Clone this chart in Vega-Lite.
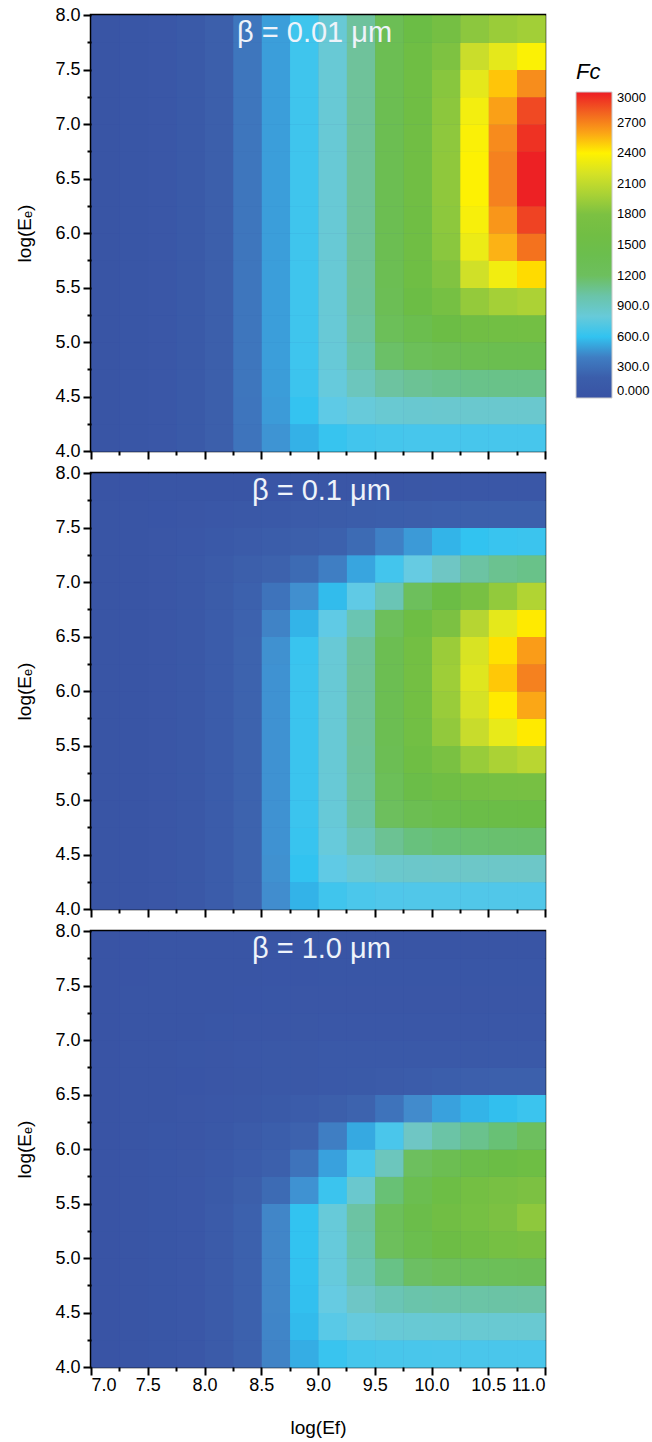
{
"$schema":"https://vega.github.io/schema/vega-lite/v6.json",
"padding":{"left":14,"top":4,"right":0,"bottom":0},
"autosize":{"type":"pad"},
"background":"white",
"spacing":0,
"datasets":{
"p1":[
{"x":7,"y":4,"v":30},{"x":7.25,"y":4,"v":50},{"x":7.5,"y":4,"v":80},{"x":7.75,"y":4,"v":130},{"x":8,"y":4,"v":220},{"x":8.25,"y":4,"v":365},{"x":8.5,"y":4,"v":475},{"x":8.75,"y":4,"v":553},{"x":9,"y":4,"v":612},{"x":9.25,"y":4,"v":637},{"x":9.5,"y":4,"v":647},{"x":9.75,"y":4,"v":650},{"x":10,"y":4,"v":650},{"x":10.25,"y":4,"v":650},{"x":10.5,"y":4,"v":650},{"x":10.75,"y":4,"v":650},
{"x":7,"y":4.25,"v":30},{"x":7.25,"y":4.25,"v":50},{"x":7.5,"y":4.25,"v":80},{"x":7.75,"y":4.25,"v":130},{"x":8,"y":4.25,"v":220},{"x":8.25,"y":4.25,"v":369},{"x":8.5,"y":4.25,"v":493},{"x":8.75,"y":4.25,"v":604},{"x":9,"y":4.25,"v":723},{"x":9.25,"y":4.25,"v":797},{"x":9.5,"y":4.25,"v":833},{"x":9.75,"y":4.25,"v":842},{"x":10,"y":4.25,"v":847},{"x":10.25,"y":4.25,"v":850},{"x":10.5,"y":4.25,"v":850},{"x":10.75,"y":4.25,"v":850},
{"x":7,"y":4.5,"v":30},{"x":7.25,"y":4.5,"v":50},{"x":7.5,"y":4.5,"v":80},{"x":7.75,"y":4.5,"v":130},{"x":8,"y":4.5,"v":220},{"x":8.25,"y":4.5,"v":370},{"x":8.5,"y":4.5,"v":498},{"x":8.75,"y":4.5,"v":622},{"x":9,"y":4.5,"v":785},{"x":9.25,"y":4.5,"v":929},{"x":9.5,"y":4.5,"v":1030},{"x":9.75,"y":4.5,"v":1067},{"x":10,"y":4.5,"v":1085},{"x":10.25,"y":4.5,"v":1097},{"x":10.5,"y":4.5,"v":1100},{"x":10.75,"y":4.5,"v":1100},
{"x":7,"y":4.75,"v":30},{"x":7.25,"y":4.75,"v":50},{"x":7.5,"y":4.75,"v":80},{"x":7.75,"y":4.75,"v":130},{"x":8,"y":4.75,"v":220},{"x":8.25,"y":4.75,"v":370},{"x":8.5,"y":4.75,"v":500},{"x":8.75,"y":4.75,"v":627},{"x":9,"y":4.75,"v":808},{"x":9.25,"y":4.75,"v":1000},{"x":9.5,"y":4.75,"v":1181},{"x":9.75,"y":4.75,"v":1265},{"x":10,"y":4.75,"v":1327},{"x":10.25,"y":4.75,"v":1363},{"x":10.5,"y":4.75,"v":1373},{"x":10.75,"y":4.75,"v":1377},
{"x":7,"y":5,"v":30},{"x":7.25,"y":5,"v":50},{"x":7.5,"y":5,"v":80},{"x":7.75,"y":5,"v":130},{"x":8,"y":5,"v":220},{"x":8.25,"y":5,"v":370},{"x":8.5,"y":5,"v":500},{"x":8.75,"y":5,"v":630},{"x":9,"y":5,"v":815},{"x":9.25,"y":5,"v":1028},{"x":9.5,"y":5,"v":1261},{"x":9.75,"y":5,"v":1403},{"x":10,"y":5,"v":1510},{"x":10.25,"y":5,"v":1605},{"x":10.5,"y":5,"v":1627},{"x":10.75,"y":5,"v":1640},
{"x":7,"y":5.25,"v":30},{"x":7.25,"y":5.25,"v":50},{"x":7.5,"y":5.25,"v":80},{"x":7.75,"y":5.25,"v":130},{"x":8,"y":5.25,"v":220},{"x":8.25,"y":5.25,"v":370},{"x":8.5,"y":5.25,"v":500},{"x":8.75,"y":5.25,"v":630},{"x":9,"y":5.25,"v":820},{"x":9.25,"y":5.25,"v":1043},{"x":9.5,"y":5.25,"v":1318},{"x":9.75,"y":5.25,"v":1514},{"x":10,"y":5.25,"v":1699},{"x":10.25,"y":5.25,"v":1906},{"x":10.5,"y":5.25,"v":1976},{"x":10.75,"y":5.25,"v":2009},
{"x":7,"y":5.5,"v":30},{"x":7.25,"y":5.5,"v":50},{"x":7.5,"y":5.5,"v":80},{"x":7.75,"y":5.5,"v":130},{"x":8,"y":5.5,"v":220},{"x":8.25,"y":5.5,"v":370},{"x":8.5,"y":5.5,"v":500},{"x":8.75,"y":5.5,"v":630},{"x":9,"y":5.5,"v":820},{"x":9.25,"y":5.5,"v":1048},{"x":9.5,"y":5.5,"v":1339},{"x":9.75,"y":5.5,"v":1570},{"x":10,"y":5.5,"v":1824},{"x":10.25,"y":5.5,"v":2176},{"x":10.5,"y":5.5,"v":2340},{"x":10.75,"y":5.5,"v":2454},
{"x":7,"y":5.75,"v":30},{"x":7.25,"y":5.75,"v":50},{"x":7.5,"y":5.75,"v":80},{"x":7.75,"y":5.75,"v":130},{"x":8,"y":5.75,"v":220},{"x":8.25,"y":5.75,"v":370},{"x":8.5,"y":5.75,"v":500},{"x":8.75,"y":5.75,"v":630},{"x":9,"y":5.75,"v":820},{"x":9.25,"y":5.75,"v":1050},{"x":9.5,"y":5.75,"v":1348},{"x":9.75,"y":5.75,"v":1589},{"x":10,"y":5.75,"v":1864},{"x":10.25,"y":5.75,"v":2313},{"x":10.5,"y":5.75,"v":2556},{"x":10.75,"y":5.75,"v":2753},
{"x":7,"y":6,"v":30},{"x":7.25,"y":6,"v":50},{"x":7.5,"y":6,"v":80},{"x":7.75,"y":6,"v":130},{"x":8,"y":6,"v":220},{"x":8.25,"y":6,"v":370},{"x":8.5,"y":6,"v":500},{"x":8.75,"y":6,"v":630},{"x":9,"y":6,"v":820},{"x":9.25,"y":6,"v":1050},{"x":9.5,"y":6,"v":1350},{"x":9.75,"y":6,"v":1592},{"x":10,"y":6,"v":1877},{"x":10.25,"y":6,"v":2362},{"x":10.5,"y":6,"v":2645},{"x":10.75,"y":6,"v":2894},
{"x":7,"y":6.25,"v":30},{"x":7.25,"y":6.25,"v":50},{"x":7.5,"y":6.25,"v":80},{"x":7.75,"y":6.25,"v":130},{"x":8,"y":6.25,"v":220},{"x":8.25,"y":6.25,"v":370},{"x":8.5,"y":6.25,"v":500},{"x":8.75,"y":6.25,"v":630},{"x":9,"y":6.25,"v":820},{"x":9.25,"y":6.25,"v":1050},{"x":9.5,"y":6.25,"v":1350},{"x":9.75,"y":6.25,"v":1598},{"x":10,"y":6.25,"v":1887},{"x":10.25,"y":6.25,"v":2389},{"x":10.5,"y":6.25,"v":2708},{"x":10.75,"y":6.25,"v":2990},
{"x":7,"y":6.5,"v":30},{"x":7.25,"y":6.5,"v":50},{"x":7.5,"y":6.5,"v":80},{"x":7.75,"y":6.5,"v":130},{"x":8,"y":6.5,"v":220},{"x":8.25,"y":6.5,"v":370},{"x":8.5,"y":6.5,"v":500},{"x":8.75,"y":6.5,"v":630},{"x":9,"y":6.5,"v":820},{"x":9.25,"y":6.5,"v":1050},{"x":9.5,"y":6.5,"v":1350},{"x":9.75,"y":6.5,"v":1598},{"x":10,"y":6.5,"v":1887},{"x":10.25,"y":6.5,"v":2389},{"x":10.5,"y":6.5,"v":2708},{"x":10.75,"y":6.5,"v":2990},
{"x":7,"y":6.75,"v":30},{"x":7.25,"y":6.75,"v":50},{"x":7.5,"y":6.75,"v":80},{"x":7.75,"y":6.75,"v":130},{"x":8,"y":6.75,"v":220},{"x":8.25,"y":6.75,"v":370},{"x":8.5,"y":6.75,"v":500},{"x":8.75,"y":6.75,"v":630},{"x":9,"y":6.75,"v":820},{"x":9.25,"y":6.75,"v":1050},{"x":9.5,"y":6.75,"v":1350},{"x":9.75,"y":6.75,"v":1596},{"x":10,"y":6.75,"v":1881},{"x":10.25,"y":6.75,"v":2377},{"x":10.5,"y":6.75,"v":2679},{"x":10.75,"y":6.75,"v":2950},
{"x":7,"y":7,"v":30},{"x":7.25,"y":7,"v":50},{"x":7.5,"y":7,"v":80},{"x":7.75,"y":7,"v":130},{"x":8,"y":7,"v":220},{"x":8.25,"y":7,"v":370},{"x":8.5,"y":7,"v":500},{"x":8.75,"y":7,"v":630},{"x":9,"y":7,"v":820},{"x":9.25,"y":7,"v":1050},{"x":9.5,"y":7,"v":1348},{"x":9.75,"y":7,"v":1592},{"x":10,"y":7,"v":1873},{"x":10.25,"y":7,"v":2347},{"x":10.5,"y":7,"v":2613},{"x":10.75,"y":7,"v":2871},
{"x":7,"y":7.25,"v":30},{"x":7.25,"y":7.25,"v":50},{"x":7.5,"y":7.25,"v":80},{"x":7.75,"y":7.25,"v":130},{"x":8,"y":7.25,"v":220},{"x":8.25,"y":7.25,"v":370},{"x":8.5,"y":7.25,"v":500},{"x":8.75,"y":7.25,"v":630},{"x":9,"y":7.25,"v":820},{"x":9.25,"y":7.25,"v":1049},{"x":9.5,"y":7.25,"v":1345},{"x":9.75,"y":7.25,"v":1582},{"x":10,"y":7.25,"v":1856},{"x":10.25,"y":7.25,"v":2279},{"x":10.5,"y":7.25,"v":2508},{"x":10.75,"y":7.25,"v":2673},
{"x":7,"y":7.5,"v":30},{"x":7.25,"y":7.5,"v":50},{"x":7.5,"y":7.5,"v":80},{"x":7.75,"y":7.5,"v":130},{"x":8,"y":7.5,"v":220},{"x":8.25,"y":7.5,"v":370},{"x":8.5,"y":7.5,"v":500},{"x":8.75,"y":7.5,"v":630},{"x":9,"y":7.5,"v":820},{"x":9.25,"y":7.5,"v":1048},{"x":9.5,"y":7.5,"v":1336},{"x":9.75,"y":7.5,"v":1565},{"x":10,"y":7.5,"v":1811},{"x":10.25,"y":7.5,"v":2144},{"x":10.5,"y":7.5,"v":2280},{"x":10.75,"y":7.5,"v":2383},
{"x":7,"y":7.75,"v":30},{"x":7.25,"y":7.75,"v":50},{"x":7.5,"y":7.75,"v":80},{"x":7.75,"y":7.75,"v":130},{"x":8,"y":7.75,"v":220},{"x":8.25,"y":7.75,"v":370},{"x":8.5,"y":7.75,"v":500},{"x":8.75,"y":7.75,"v":630},{"x":9,"y":7.75,"v":820},{"x":9.25,"y":7.75,"v":1041},{"x":9.5,"y":7.75,"v":1314},{"x":9.75,"y":7.75,"v":1504},{"x":10,"y":7.75,"v":1682},{"x":10.25,"y":7.75,"v":1870},{"x":10.5,"y":7.75,"v":1934},{"x":10.75,"y":7.75,"v":1966}
],
"p2":[
{"x":7,"y":4,"v":30},{"x":7.25,"y":4,"v":40},{"x":7.5,"y":4,"v":60},{"x":7.75,"y":4,"v":100},{"x":8,"y":4,"v":170},{"x":8.25,"y":4,"v":299},{"x":8.5,"y":4,"v":456},{"x":8.75,"y":4,"v":558},{"x":9,"y":4,"v":632},{"x":9.25,"y":4,"v":664},{"x":9.5,"y":4,"v":676},{"x":9.75,"y":4,"v":680},{"x":10,"y":4,"v":680},{"x":10.25,"y":4,"v":680},{"x":10.5,"y":4,"v":680},{"x":10.75,"y":4,"v":680},
{"x":7,"y":4.25,"v":30},{"x":7.25,"y":4.25,"v":40},{"x":7.5,"y":4.25,"v":60},{"x":7.75,"y":4.25,"v":100},{"x":8,"y":4.25,"v":170},{"x":8.25,"y":4.25,"v":300},{"x":8.5,"y":4.25,"v":465},{"x":8.75,"y":4.25,"v":599},{"x":9,"y":4.25,"v":730},{"x":9.25,"y":4.25,"v":817},{"x":9.5,"y":4.25,"v":859},{"x":9.75,"y":4.25,"v":871},{"x":10,"y":4.25,"v":877},{"x":10.25,"y":4.25,"v":880},{"x":10.5,"y":4.25,"v":880},{"x":10.75,"y":4.25,"v":880},
{"x":7,"y":4.5,"v":30},{"x":7.25,"y":4.5,"v":40},{"x":7.5,"y":4.5,"v":60},{"x":7.75,"y":4.5,"v":100},{"x":8,"y":4.5,"v":170},{"x":8.25,"y":4.5,"v":300},{"x":8.5,"y":4.5,"v":470},{"x":8.75,"y":4.5,"v":614},{"x":9,"y":4.5,"v":793},{"x":9.25,"y":4.5,"v":948},{"x":9.5,"y":4.5,"v":1071},{"x":9.75,"y":4.5,"v":1130},{"x":10,"y":4.5,"v":1151},{"x":10.25,"y":4.5,"v":1161},{"x":10.5,"y":4.5,"v":1166},{"x":10.75,"y":4.5,"v":1168},
{"x":7,"y":4.75,"v":30},{"x":7.25,"y":4.75,"v":40},{"x":7.5,"y":4.75,"v":60},{"x":7.75,"y":4.75,"v":100},{"x":8,"y":4.75,"v":170},{"x":8.25,"y":4.75,"v":300},{"x":8.5,"y":4.75,"v":470},{"x":8.75,"y":4.75,"v":619},{"x":9,"y":4.75,"v":811},{"x":9.25,"y":4.75,"v":1015},{"x":9.5,"y":4.75,"v":1219},{"x":9.75,"y":4.75,"v":1350},{"x":10,"y":4.75,"v":1425},{"x":10.25,"y":4.75,"v":1462},{"x":10.5,"y":4.75,"v":1476},{"x":10.75,"y":4.75,"v":1484},
{"x":7,"y":5,"v":30},{"x":7.25,"y":5,"v":40},{"x":7.5,"y":5,"v":60},{"x":7.75,"y":5,"v":100},{"x":8,"y":5,"v":170},{"x":8.25,"y":5,"v":300},{"x":8.5,"y":5,"v":470},{"x":8.75,"y":5,"v":620},{"x":9,"y":5,"v":816},{"x":9.25,"y":5,"v":1033},{"x":9.5,"y":5,"v":1282},{"x":9.75,"y":5,"v":1465},{"x":10,"y":5,"v":1580},{"x":10.25,"y":5,"v":1659},{"x":10.5,"y":5,"v":1692},{"x":10.75,"y":5,"v":1710},
{"x":7,"y":5.25,"v":30},{"x":7.25,"y":5.25,"v":40},{"x":7.5,"y":5.25,"v":60},{"x":7.75,"y":5.25,"v":100},{"x":8,"y":5.25,"v":170},{"x":8.25,"y":5.25,"v":300},{"x":8.5,"y":5.25,"v":470},{"x":8.75,"y":5.25,"v":620},{"x":9,"y":5.25,"v":820},{"x":9.25,"y":5.25,"v":1045},{"x":9.5,"y":5.25,"v":1324},{"x":9.75,"y":5.25,"v":1574},{"x":10,"y":5.25,"v":1773},{"x":10.25,"y":5.25,"v":1925},{"x":10.5,"y":5.25,"v":2006},{"x":10.75,"y":5.25,"v":2063},
{"x":7,"y":5.5,"v":30},{"x":7.25,"y":5.5,"v":40},{"x":7.5,"y":5.5,"v":60},{"x":7.75,"y":5.5,"v":100},{"x":8,"y":5.5,"v":170},{"x":8.25,"y":5.5,"v":300},{"x":8.5,"y":5.5,"v":470},{"x":8.75,"y":5.5,"v":620},{"x":9,"y":5.5,"v":820},{"x":9.25,"y":5.5,"v":1050},{"x":9.5,"y":5.5,"v":1345},{"x":9.75,"y":5.5,"v":1628},{"x":10,"y":5.5,"v":1899},{"x":10.25,"y":5.5,"v":2133},{"x":10.5,"y":5.5,"v":2293},{"x":10.75,"y":5.5,"v":2420},
{"x":7,"y":5.75,"v":30},{"x":7.25,"y":5.75,"v":40},{"x":7.5,"y":5.75,"v":60},{"x":7.75,"y":5.75,"v":100},{"x":8,"y":5.75,"v":170},{"x":8.25,"y":5.75,"v":300},{"x":8.5,"y":5.75,"v":470},{"x":8.75,"y":5.75,"v":620},{"x":9,"y":5.75,"v":820},{"x":9.25,"y":5.75,"v":1050},{"x":9.5,"y":5.75,"v":1350},{"x":9.75,"y":5.75,"v":1648},{"x":10,"y":5.75,"v":1930},{"x":10.25,"y":5.75,"v":2205},{"x":10.5,"y":5.75,"v":2420},{"x":10.75,"y":5.75,"v":2592},
{"x":7,"y":6,"v":30},{"x":7.25,"y":6,"v":40},{"x":7.5,"y":6,"v":60},{"x":7.75,"y":6,"v":100},{"x":8,"y":6,"v":170},{"x":8.25,"y":6,"v":300},{"x":8.5,"y":6,"v":470},{"x":8.75,"y":6,"v":620},{"x":9,"y":6,"v":820},{"x":9.25,"y":6,"v":1050},{"x":9.5,"y":6,"v":1350},{"x":9.75,"y":6,"v":1650},{"x":10,"y":6,"v":1950},{"x":10.25,"y":6,"v":2250},{"x":10.5,"y":6,"v":2500},{"x":10.75,"y":6,"v":2710},
{"x":7,"y":6.25,"v":30},{"x":7.25,"y":6.25,"v":40},{"x":7.5,"y":6.25,"v":60},{"x":7.75,"y":6.25,"v":100},{"x":8,"y":6.25,"v":170},{"x":8.25,"y":6.25,"v":300},{"x":8.5,"y":6.25,"v":465},{"x":8.75,"y":6.25,"v":615},{"x":9,"y":6.25,"v":815},{"x":9.25,"y":6.25,"v":1045},{"x":9.5,"y":6.25,"v":1345},{"x":9.75,"y":6.25,"v":1645},{"x":10,"y":6.25,"v":1936},{"x":10.25,"y":6.25,"v":2216},{"x":10.5,"y":6.25,"v":2440},{"x":10.75,"y":6.25,"v":2625},
{"x":7,"y":6.5,"v":30},{"x":7.25,"y":6.5,"v":40},{"x":7.5,"y":6.5,"v":60},{"x":7.75,"y":6.5,"v":100},{"x":8,"y":6.5,"v":170},{"x":8.25,"y":6.5,"v":290},{"x":8.5,"y":6.5,"v":420},{"x":8.75,"y":6.5,"v":560},{"x":9,"y":6.5,"v":730},{"x":9.25,"y":6.5,"v":970},{"x":9.5,"y":6.5,"v":1240},{"x":9.75,"y":6.5,"v":1550},{"x":10,"y":6.5,"v":1800},{"x":10.25,"y":6.5,"v":2050},{"x":10.5,"y":6.5,"v":2280},{"x":10.75,"y":6.5,"v":2420},
{"x":7,"y":6.75,"v":30},{"x":7.25,"y":6.75,"v":40},{"x":7.5,"y":6.75,"v":60},{"x":7.75,"y":6.75,"v":100},{"x":8,"y":6.75,"v":160},{"x":8.25,"y":6.75,"v":260},{"x":8.5,"y":6.75,"v":360},{"x":8.75,"y":6.75,"v":460},{"x":9,"y":6.75,"v":580},{"x":9.25,"y":6.75,"v":730},{"x":9.5,"y":6.75,"v":960},{"x":9.75,"y":6.75,"v":1220},{"x":10,"y":6.75,"v":1500},{"x":10.25,"y":6.75,"v":1720},{"x":10.5,"y":6.75,"v":1900},{"x":10.75,"y":6.75,"v":2030},
{"x":7,"y":7,"v":30},{"x":7.25,"y":7,"v":40},{"x":7.5,"y":7,"v":60},{"x":7.75,"y":7,"v":100},{"x":8,"y":7,"v":150},{"x":8.25,"y":7,"v":220},{"x":8.5,"y":7,"v":280},{"x":8.75,"y":7,"v":330},{"x":9,"y":7,"v":400},{"x":9.25,"y":7,"v":520},{"x":9.5,"y":7,"v":640},{"x":9.75,"y":7,"v":760},{"x":10,"y":7,"v":900},{"x":10.25,"y":7,"v":1020},{"x":10.5,"y":7,"v":1080},{"x":10.75,"y":7,"v":1100},
{"x":7,"y":7.25,"v":30},{"x":7.25,"y":7.25,"v":40},{"x":7.5,"y":7.25,"v":55},{"x":7.75,"y":7.25,"v":80},{"x":8,"y":7.25,"v":110},{"x":8.25,"y":7.25,"v":150},{"x":8.5,"y":7.25,"v":180},{"x":8.75,"y":7.25,"v":220},{"x":9,"y":7.25,"v":270},{"x":9.25,"y":7.25,"v":330},{"x":9.5,"y":7.25,"v":410},{"x":9.75,"y":7.25,"v":490},{"x":10,"y":7.25,"v":560},{"x":10.25,"y":7.25,"v":600},{"x":10.5,"y":7.25,"v":615},{"x":10.75,"y":7.25,"v":620},
{"x":7,"y":7.5,"v":28},{"x":7.25,"y":7.5,"v":35},{"x":7.5,"y":7.5,"v":45},{"x":7.75,"y":7.5,"v":60},{"x":8,"y":7.5,"v":80},{"x":8.25,"y":7.5,"v":100},{"x":8.5,"y":7.5,"v":120},{"x":8.75,"y":7.5,"v":140},{"x":9,"y":7.5,"v":160},{"x":9.25,"y":7.5,"v":180},{"x":9.5,"y":7.5,"v":200},{"x":9.75,"y":7.5,"v":215},{"x":10,"y":7.5,"v":228},{"x":10.25,"y":7.5,"v":238},{"x":10.5,"y":7.5,"v":245},{"x":10.75,"y":7.5,"v":250},
{"x":7,"y":7.75,"v":25},{"x":7.25,"y":7.75,"v":25},{"x":7.5,"y":7.75,"v":30},{"x":7.75,"y":7.75,"v":30},{"x":8,"y":7.75,"v":35},{"x":8.25,"y":7.75,"v":40},{"x":8.5,"y":7.75,"v":45},{"x":8.75,"y":7.75,"v":50},{"x":9,"y":7.75,"v":55},{"x":9.25,"y":7.75,"v":60},{"x":9.5,"y":7.75,"v":65},{"x":9.75,"y":7.75,"v":70},{"x":10,"y":7.75,"v":72},{"x":10.25,"y":7.75,"v":75},{"x":10.5,"y":7.75,"v":78},{"x":10.75,"y":7.75,"v":80}
],
"p3":[
{"x":7,"y":4,"v":25},{"x":7.25,"y":4,"v":35},{"x":7.5,"y":4,"v":50},{"x":7.75,"y":4,"v":80},{"x":8,"y":4,"v":140},{"x":8.25,"y":4,"v":260},{"x":8.5,"y":4,"v":420},{"x":8.75,"y":4,"v":540},{"x":9,"y":4,"v":615},{"x":9.25,"y":4,"v":645},{"x":9.5,"y":4,"v":654},{"x":9.75,"y":4,"v":658},{"x":10,"y":4,"v":660},{"x":10.25,"y":4,"v":660},{"x":10.5,"y":4,"v":660},{"x":10.75,"y":4,"v":660},
{"x":7,"y":4.25,"v":25},{"x":7.25,"y":4.25,"v":35},{"x":7.5,"y":4.25,"v":50},{"x":7.75,"y":4.25,"v":80},{"x":8,"y":4.25,"v":140},{"x":8.25,"y":4.25,"v":260},{"x":8.5,"y":4.25,"v":427},{"x":8.75,"y":4.25,"v":578},{"x":9,"y":4.25,"v":706},{"x":9.25,"y":4.25,"v":780},{"x":9.5,"y":4.25,"v":814},{"x":9.75,"y":4.25,"v":823},{"x":10,"y":4.25,"v":828},{"x":10.25,"y":4.25,"v":832},{"x":10.5,"y":4.25,"v":834},{"x":10.75,"y":4.25,"v":835},
{"x":7,"y":4.5,"v":25},{"x":7.25,"y":4.5,"v":35},{"x":7.5,"y":4.5,"v":50},{"x":7.75,"y":4.5,"v":80},{"x":8,"y":4.5,"v":140},{"x":8.25,"y":4.5,"v":260},{"x":8.5,"y":4.5,"v":430},{"x":8.75,"y":4.5,"v":592},{"x":9,"y":4.5,"v":758},{"x":9.25,"y":4.5,"v":890},{"x":9.5,"y":4.5,"v":960},{"x":9.75,"y":4.5,"v":995},{"x":10,"y":4.5,"v":1006},{"x":10.25,"y":4.5,"v":1012},{"x":10.5,"y":4.5,"v":1016},{"x":10.75,"y":4.5,"v":1019},
{"x":7,"y":4.75,"v":25},{"x":7.25,"y":4.75,"v":35},{"x":7.5,"y":4.75,"v":50},{"x":7.75,"y":4.75,"v":80},{"x":8,"y":4.75,"v":140},{"x":8.25,"y":4.75,"v":260},{"x":8.5,"y":4.75,"v":430},{"x":8.75,"y":4.75,"v":598},{"x":9,"y":4.75,"v":786},{"x":9.25,"y":4.75,"v":967},{"x":9.5,"y":4.75,"v":1109},{"x":9.75,"y":4.75,"v":1190},{"x":10,"y":4.75,"v":1235},{"x":10.25,"y":4.75,"v":1258},{"x":10.5,"y":4.75,"v":1275},{"x":10.75,"y":4.75,"v":1285},
{"x":7,"y":5,"v":25},{"x":7.25,"y":5,"v":35},{"x":7.5,"y":5,"v":50},{"x":7.75,"y":5,"v":80},{"x":8,"y":5,"v":140},{"x":8.25,"y":5,"v":260},{"x":8.5,"y":5,"v":430},{"x":8.75,"y":5,"v":600},{"x":9,"y":5,"v":790},{"x":9.25,"y":5,"v":1000},{"x":9.5,"y":5,"v":1220},{"x":9.75,"y":5,"v":1400},{"x":10,"y":5,"v":1530},{"x":10.25,"y":5,"v":1610},{"x":10.5,"y":5,"v":1690},{"x":10.75,"y":5,"v":1750},
{"x":7,"y":5.25,"v":25},{"x":7.25,"y":5.25,"v":35},{"x":7.5,"y":5.25,"v":50},{"x":7.75,"y":5.25,"v":80},{"x":8,"y":5.25,"v":140},{"x":8.25,"y":5.25,"v":260},{"x":8.5,"y":5.25,"v":430},{"x":8.75,"y":5.25,"v":600},{"x":9,"y":5.25,"v":800},{"x":9.25,"y":5.25,"v":1020},{"x":9.5,"y":5.25,"v":1250},{"x":9.75,"y":5.25,"v":1450},{"x":10,"y":5.25,"v":1600},{"x":10.25,"y":5.25,"v":1700},{"x":10.5,"y":5.25,"v":1800},{"x":10.75,"y":5.25,"v":1880},
{"x":7,"y":5.5,"v":25},{"x":7.25,"y":5.5,"v":35},{"x":7.5,"y":5.5,"v":50},{"x":7.75,"y":5.5,"v":78},{"x":8,"y":5.5,"v":130},{"x":8.25,"y":5.5,"v":220},{"x":8.5,"y":5.5,"v":330},{"x":8.75,"y":5.5,"v":470},{"x":9,"y":5.5,"v":620},{"x":9.25,"y":5.5,"v":850},{"x":9.5,"y":5.5,"v":1150},{"x":9.75,"y":5.5,"v":1380},{"x":10,"y":5.5,"v":1540},{"x":10.25,"y":5.5,"v":1650},{"x":10.5,"y":5.5,"v":1730},{"x":10.75,"y":5.5,"v":1800},
{"x":7,"y":5.75,"v":25},{"x":7.25,"y":5.75,"v":35},{"x":7.5,"y":5.75,"v":50},{"x":7.75,"y":5.75,"v":70},{"x":8,"y":5.75,"v":110},{"x":8.25,"y":5.75,"v":170},{"x":8.5,"y":5.75,"v":250},{"x":8.75,"y":5.75,"v":360},{"x":9,"y":5.75,"v":510},{"x":9.25,"y":5.75,"v":650},{"x":9.5,"y":5.75,"v":930},{"x":9.75,"y":5.75,"v":1200},{"x":10,"y":5.75,"v":1350},{"x":10.25,"y":5.75,"v":1450},{"x":10.5,"y":5.75,"v":1500},{"x":10.75,"y":5.75,"v":1550},
{"x":7,"y":6,"v":25},{"x":7.25,"y":6,"v":35},{"x":7.5,"y":6,"v":47},{"x":7.75,"y":6,"v":65},{"x":8,"y":6,"v":95},{"x":8.25,"y":6,"v":140},{"x":8.5,"y":6,"v":200},{"x":8.75,"y":6,"v":290},{"x":9,"y":6,"v":400},{"x":9.25,"y":6,"v":530},{"x":9.5,"y":6,"v":660},{"x":9.75,"y":6,"v":900},{"x":10,"y":6,"v":1010},{"x":10.25,"y":6,"v":1090},{"x":10.5,"y":6,"v":1150},{"x":10.75,"y":6,"v":1200},
{"x":7,"y":6.25,"v":25},{"x":7.25,"y":6.25,"v":34},{"x":7.5,"y":6.25,"v":42},{"x":7.75,"y":6.25,"v":55},{"x":8,"y":6.25,"v":75},{"x":8.25,"y":6.25,"v":100},{"x":8.5,"y":6.25,"v":130},{"x":8.75,"y":6.25,"v":170},{"x":9,"y":6.25,"v":220},{"x":9.25,"y":6.25,"v":300},{"x":9.5,"y":6.25,"v":360},{"x":9.75,"y":6.25,"v":450},{"x":10,"y":6.25,"v":510},{"x":10.25,"y":6.25,"v":560},{"x":10.5,"y":6.25,"v":590},{"x":10.75,"y":6.25,"v":620},
{"x":7,"y":6.5,"v":25},{"x":7.25,"y":6.5,"v":32},{"x":7.5,"y":6.5,"v":38},{"x":7.75,"y":6.5,"v":45},{"x":8,"y":6.5,"v":55},{"x":8.25,"y":6.5,"v":70},{"x":8.5,"y":6.5,"v":85},{"x":8.75,"y":6.5,"v":100},{"x":9,"y":6.5,"v":115},{"x":9.25,"y":6.5,"v":130},{"x":9.5,"y":6.5,"v":150},{"x":9.75,"y":6.5,"v":170},{"x":10,"y":6.5,"v":200},{"x":10.25,"y":6.5,"v":228},{"x":10.5,"y":6.5,"v":243},{"x":10.75,"y":6.5,"v":250},
{"x":7,"y":6.75,"v":25},{"x":7.25,"y":6.75,"v":32},{"x":7.5,"y":6.75,"v":40},{"x":7.75,"y":6.75,"v":50},{"x":8,"y":6.75,"v":60},{"x":8.25,"y":6.75,"v":72},{"x":8.5,"y":6.75,"v":85},{"x":8.75,"y":6.75,"v":95},{"x":9,"y":6.75,"v":103},{"x":9.25,"y":6.75,"v":108},{"x":9.5,"y":6.75,"v":112},{"x":9.75,"y":6.75,"v":115},{"x":10,"y":6.75,"v":117},{"x":10.25,"y":6.75,"v":118},{"x":10.5,"y":6.75,"v":119},{"x":10.75,"y":6.75,"v":120},
{"x":7,"y":7,"v":25},{"x":7.25,"y":7,"v":30},{"x":7.5,"y":7,"v":35},{"x":7.75,"y":7,"v":40},{"x":8,"y":7,"v":48},{"x":8.25,"y":7,"v":55},{"x":8.5,"y":7,"v":62},{"x":8.75,"y":7,"v":68},{"x":9,"y":7,"v":72},{"x":9.25,"y":7,"v":75},{"x":9.5,"y":7,"v":77},{"x":9.75,"y":7,"v":78},{"x":10,"y":7,"v":79},{"x":10.25,"y":7,"v":80},{"x":10.5,"y":7,"v":80},{"x":10.75,"y":7,"v":80},
{"x":7,"y":7.25,"v":25},{"x":7.25,"y":7.25,"v":28},{"x":7.5,"y":7.25,"v":32},{"x":7.75,"y":7.25,"v":36},{"x":8,"y":7.25,"v":40},{"x":8.25,"y":7.25,"v":45},{"x":8.5,"y":7.25,"v":50},{"x":8.75,"y":7.25,"v":53},{"x":9,"y":7.25,"v":55},{"x":9.25,"y":7.25,"v":57},{"x":9.5,"y":7.25,"v":58},{"x":9.75,"y":7.25,"v":59},{"x":10,"y":7.25,"v":60},{"x":10.25,"y":7.25,"v":60},{"x":10.5,"y":7.25,"v":60},{"x":10.75,"y":7.25,"v":60},
{"x":7,"y":7.5,"v":25},{"x":7.25,"y":7.5,"v":27},{"x":7.5,"y":7.5,"v":30},{"x":7.75,"y":7.5,"v":33},{"x":8,"y":7.5,"v":36},{"x":8.25,"y":7.5,"v":40},{"x":8.5,"y":7.5,"v":43},{"x":8.75,"y":7.5,"v":45},{"x":9,"y":7.5,"v":47},{"x":9.25,"y":7.5,"v":48},{"x":9.5,"y":7.5,"v":49},{"x":9.75,"y":7.5,"v":50},{"x":10,"y":7.5,"v":50},{"x":10.25,"y":7.5,"v":50},{"x":10.5,"y":7.5,"v":50},{"x":10.75,"y":7.5,"v":50},
{"x":7,"y":7.75,"v":25},{"x":7.25,"y":7.75,"v":25},{"x":7.5,"y":7.75,"v":28},{"x":7.75,"y":7.75,"v":30},{"x":8,"y":7.75,"v":32},{"x":8.25,"y":7.75,"v":35},{"x":8.5,"y":7.75,"v":38},{"x":8.75,"y":7.75,"v":40},{"x":9,"y":7.75,"v":40},{"x":9.25,"y":7.75,"v":40},{"x":9.5,"y":7.75,"v":40},{"x":9.75,"y":7.75,"v":40},{"x":10,"y":7.75,"v":40},{"x":10.25,"y":7.75,"v":40},{"x":10.5,"y":7.75,"v":40},{"x":10.75,"y":7.75,"v":40}
]
},
"vconcat":[
{"width":454,"height":436,"data":{"name":"p1"},
 "layer":[
  {"mark":{"type":"rect"},
   "encoding":{
    "x":{"field":"x","type":"quantitative","bin":{"binned":true,"step":0.25},"scale":{"domain":[7,11],"nice":false},"axis":{"orient":"bottom","values":[7,7.5,8,8.5,9,9.5,10,10.5,11],"format":".1f","labels":false,"tickSize":8,"title":null}},
    "y":{"field":"y","type":"quantitative","bin":{"binned":true,"step":0.25},"scale":{"domain":[4,8],"nice":false},"axis":{"orient":"left","values":[4,4.5,5,5.5,6,6.5,7,7.5,8],"format":".1f","tickSize":8,"title":"log(Eₑ)"}},
    "color":{"field":"v","type":"quantitative",
      "scale":{"domain":[0,300,450,600,750,900,1050,1200,1500,1800,2100,2400,2550,2700,2850,3000],"range":["#3953a4","#3d63ae","#428bcc","#32c3f0","#66cbe4","#6fc6c4","#6fc29a","#6dbf5e","#6bbd45","#7cc142","#c2d92f","#fff200","#fcb415","#f5841f","#f04e23","#ed1c24"]},
      "legend":{"type":"gradient","title":"Fc","orient":"none","legendX":485,"legendY":47,"direction":"vertical","gradientLength":306,"gradientThickness":36,"values":[0,300,600,900,1200,1500,1800,2100,2400,2700,3000],"labelExpr":"datum.value == 0 ? '0.000' : (datum.value < 1000 ? format(datum.value, '.1f') : format(datum.value, 'd'))","labelFontSize":13,"labelFont":"Liberation Sans","labelOffset":5,"labelOverlap":false,"labelColor":"black","titleFontSize":22,"titleFontStyle":"italic","titleFontWeight":"normal","titleFont":"Liberation Sans","titleColor":"black","titlePadding":8,"gradientStrokeColor":"#cccccc","gradientStrokeWidth":1}}
   }},
  {"mark":{"type":"rect"},
   "encoding":{
    "x":{"field":"x","type":"quantitative","bin":{"binned":true,"step":0.25},"axis":{"orient":"bottom","values":[7.25,7.75,8.25,8.75,9.25,9.75,10.25,10.75],"labels":false,"tickSize":4,"title":null}},
    "y":{"field":"y","type":"quantitative","bin":{"binned":true,"step":0.25},"axis":{"orient":"left","values":[4.25,4.75,5.25,5.75,6.25,6.75,7.25,7.75],"labels":false,"tickSize":4,"title":null}},
    "color":{"field":"v","type":"quantitative","legend":null}
   }},
  {"data":{"values":[{}]},
   "mark":{"type":"text","fill":"#eef3fa","fontSize":29,"fontWeight":"normal","font":"Liberation Sans","baseline":"alphabetic","align":"center"},
   "encoding":{"x":{"datum":8.97,"type":"quantitative","axis":null},"y":{"datum":7.752,"type":"quantitative","axis":null},"text":{"value":"β = 0.01 μm"}}}
 ],
 "resolve":{"axis":{"x":"independent","y":"independent"}}
},
{"width":454,"height":436,"data":{"name":"p2"},
 "layer":[
  {"mark":{"type":"rect"},
   "encoding":{
    "x":{"field":"x","type":"quantitative","bin":{"binned":true,"step":0.25},"scale":{"domain":[7,11],"nice":false},"axis":{"orient":"bottom","values":[7,7.5,8,8.5,9,9.5,10,10.5,11],"format":".1f","labels":false,"tickSize":8,"title":null}},
    "y":{"field":"y","type":"quantitative","bin":{"binned":true,"step":0.25},"scale":{"domain":[4,8],"nice":false},"axis":{"orient":"left","values":[4,4.5,5,5.5,6,6.5,7,7.5,8],"format":".1f","tickSize":8,"title":"log(Eₑ)"}},
    "color":{"field":"v","type":"quantitative",
      "scale":{"domain":[0,300,450,600,750,900,1050,1200,1500,1800,2100,2400,2550,2700,2850,3000],"range":["#3953a4","#3d63ae","#428bcc","#32c3f0","#66cbe4","#6fc6c4","#6fc29a","#6dbf5e","#6bbd45","#7cc142","#c2d92f","#fff200","#fcb415","#f5841f","#f04e23","#ed1c24"]},
      "legend":{"type":"gradient","title":"Fc","orient":"none","legendX":485,"legendY":47,"direction":"vertical","gradientLength":306,"gradientThickness":36,"values":[0,300,600,900,1200,1500,1800,2100,2400,2700,3000],"labelExpr":"datum.value == 0 ? '0.000' : (datum.value < 1000 ? format(datum.value, '.1f') : format(datum.value, 'd'))","labelFontSize":13,"labelFont":"Liberation Sans","labelOffset":5,"labelOverlap":false,"labelColor":"black","titleFontSize":22,"titleFontStyle":"italic","titleFontWeight":"normal","titleFont":"Liberation Sans","titleColor":"black","titlePadding":8,"gradientStrokeColor":"#cccccc","gradientStrokeWidth":1}}
   }},
  {"mark":{"type":"rect"},
   "encoding":{
    "x":{"field":"x","type":"quantitative","bin":{"binned":true,"step":0.25},"axis":{"orient":"bottom","values":[7.25,7.75,8.25,8.75,9.25,9.75,10.25,10.75],"labels":false,"tickSize":4,"title":null}},
    "y":{"field":"y","type":"quantitative","bin":{"binned":true,"step":0.25},"axis":{"orient":"left","values":[4.25,4.75,5.25,5.75,6.25,6.75,7.25,7.75],"labels":false,"tickSize":4,"title":null}},
    "color":{"field":"v","type":"quantitative","legend":null}
   }},
  {"data":{"values":[{}]},
   "mark":{"type":"text","fill":"#eef3fa","fontSize":29,"fontWeight":"normal","font":"Liberation Sans","baseline":"alphabetic","align":"center"},
   "encoding":{"x":{"datum":9.03,"type":"quantitative","axis":null},"y":{"datum":7.752,"type":"quantitative","axis":null},"text":{"value":"β = 0.1 μm"}}}
 ],
 "resolve":{"axis":{"x":"independent","y":"independent"}}
},
{"width":454,"height":436,"data":{"name":"p3"},
 "layer":[
  {"mark":{"type":"rect"},
   "encoding":{
    "x":{"field":"x","type":"quantitative","bin":{"binned":true,"step":0.25},"scale":{"domain":[7,11],"nice":false},"axis":{"orient":"bottom","values":[7,7.5,8,8.5,9,9.5,10,10.5,11],"format":".1f","tickSize":8,"labelPadding":1,"titlePadding":24,"title":"log(Ef)"}},
    "y":{"field":"y","type":"quantitative","bin":{"binned":true,"step":0.25},"scale":{"domain":[4,8],"nice":false},"axis":{"orient":"left","values":[4,4.5,5,5.5,6,6.5,7,7.5,8],"format":".1f","tickSize":8,"title":"log(Eₑ)"}},
    "color":{"field":"v","type":"quantitative",
      "scale":{"domain":[0,300,450,600,750,900,1050,1200,1500,1800,2100,2400,2550,2700,2850,3000],"range":["#3953a4","#3d63ae","#428bcc","#32c3f0","#66cbe4","#6fc6c4","#6fc29a","#6dbf5e","#6bbd45","#7cc142","#c2d92f","#fff200","#fcb415","#f5841f","#f04e23","#ed1c24"]},
      "legend":{"type":"gradient","title":"Fc","orient":"none","legendX":485,"legendY":47,"direction":"vertical","gradientLength":306,"gradientThickness":36,"values":[0,300,600,900,1200,1500,1800,2100,2400,2700,3000],"labelExpr":"datum.value == 0 ? '0.000' : (datum.value < 1000 ? format(datum.value, '.1f') : format(datum.value, 'd'))","labelFontSize":13,"labelFont":"Liberation Sans","labelOffset":5,"labelOverlap":false,"labelColor":"black","titleFontSize":22,"titleFontStyle":"italic","titleFontWeight":"normal","titleFont":"Liberation Sans","titleColor":"black","titlePadding":8,"gradientStrokeColor":"#cccccc","gradientStrokeWidth":1}}
   }},
  {"mark":{"type":"rect"},
   "encoding":{
    "x":{"field":"x","type":"quantitative","bin":{"binned":true,"step":0.25},"axis":{"orient":"bottom","values":[7.25,7.75,8.25,8.75,9.25,9.75,10.25,10.75],"labels":false,"tickSize":4,"title":null}},
    "y":{"field":"y","type":"quantitative","bin":{"binned":true,"step":0.25},"axis":{"orient":"left","values":[4.25,4.75,5.25,5.75,6.25,6.75,7.25,7.75],"labels":false,"tickSize":4,"title":null}},
    "color":{"field":"v","type":"quantitative","legend":null}
   }},
  {"data":{"values":[{}]},
   "mark":{"type":"text","fill":"#eef3fa","fontSize":29,"fontWeight":"normal","font":"Liberation Sans","baseline":"alphabetic","align":"center"},
   "encoding":{"x":{"datum":9.03,"type":"quantitative","axis":null},"y":{"datum":7.752,"type":"quantitative","axis":null},"text":{"value":"β = 1.0 μm"}}}
 ],
 "resolve":{"axis":{"x":"independent","y":"independent"}}
}
],
"resolve":{"scale":{"color":"shared"}},
"config":{
 "view":{"stroke":"black","strokeWidth":2.5,"fill":"#3953a4"},
 "axis":{"domain":false,"grid":false,"ticks":true,"tickColor":"black","tickWidth":2,"labelFont":"Liberation Sans","labelFontSize":18,"labelColor":"black","labelPadding":3,"titleFont":"Liberation Sans","titleFontSize":19,"titleFontWeight":"normal","titleColor":"black"},
 "axisY":{"titlePadding":20},
 "axisX":{"titlePadding":8}
}
}
